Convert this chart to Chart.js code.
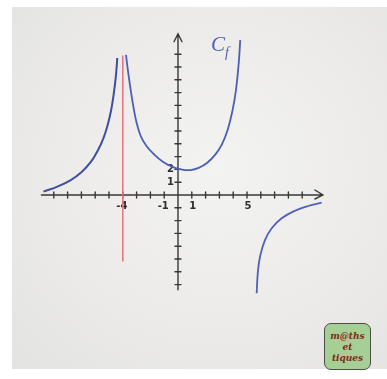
<!DOCTYPE html>
<html>
<head>
<meta charset="utf-8">
<script src="https://cdn.jsdelivr.net/npm/chart.js@4.4.1/dist/chart.umd.min.js"></script>
<style>
  body { margin:0; background:#fff; }
  #wrap { position:relative; width:387px; height:379px; overflow:hidden; background:#fff; }
  #board { position:absolute; left:12px; top:7px; width:375px; height:362px;
    background:radial-gradient(ellipse at 55% 45%, #f3f3f1 0%, #ecebe9 55%, #e3e3e1 100%); }
  #graph { position:absolute; left:0; top:0; }
  #logo { position:absolute; left:324px; top:323px; width:47px; height:47px; box-sizing:border-box;
    border:1.5px solid #4d4d48; border-radius:7px; background:#a6cf96;
    font:italic bold 9px "DejaVu Serif", serif; color:#7e2a17; text-align:center; line-height:11px; padding-top:7px; }
</style>
</head>
<body>
<div id="wrap">
  <div id="board"></div>
  <canvas id="graph" width="387" height="379"></canvas>
  <div id="logo">m@ths<br>et<br>tiques</div>
</div>
<script>
// branch left of the asymptote x = -4
const leftX  = [-9.75,-8.7,-7.8,-7.0,-6.3,-5.8,-5.4,-5.1,-4.85,-4.65,-4.5,-4.4];
const leftY  = [0.26, 0.68, 1.15, 1.78, 2.6, 3.5, 4.45, 5.45, 6.6, 7.95, 9.3, 10.7];
// branch between x = -4 and x = 5
const midX   = [-3.77,-3.6,-3.4,-3.2,-3.0,-2.7,-2.3,-1.8,-1.1,-0.4,0.3,0.9,1.5,2.1,2.7,3.2,3.6,3.95,4.2,4.4,4.51];
const midY   = [10.94,9.5,8.0,6.7,5.65,4.6,3.85,3.25,2.6,2.2,1.98,1.95,2.12,2.5,3.15,4.0,5.1,6.6,8.2,10.3,12.1];
// branch right of x = 5
const rightX = [5.70,5.78,5.94,6.30,6.79,7.51,8.48,9.44,10.41];
const rightY = [-7.68,-6.12,-4.82,-3.52,-2.60,-1.82,-1.23,-0.86,-0.60];
// asymptote x = -4
const asymX  = [-4,-4];
const asymY  = [10.9,-5.2];

const xAxisEnds = [-9.9, 10.5];
const yAxisEnds = [-7.4, 12.6];
const xTicks = [-9,-8,-7,-6,-5,-4,-3,-2,-1,1,2,3,4,5,6,7,8,9];
const yTicks = [-7,-6,-5,-4,-3,-2,-1,1,2,3,4,5,6,7,8,9,10,11];
const xLabels = ['-4','-1','1','5'];
const yLabels = ['1','2'];

const pts = (xs,ys) => xs.map((x,i)=>({x, y:ys[i]}));
const ORX = 178, ORY = 195, UX = 13.8, UY = 12.8;

const axesPlugin = {
  id:'axes',
  beforeDatasetsDraw(chart) {
    const c = chart.ctx, sx = chart.scales.x, sy = chart.scales.y;
    const x0 = sx.getPixelForValue(0), y0 = sy.getPixelForValue(0);
    c.save();
    c.strokeStyle = '#383838'; c.lineWidth = 1.4; c.lineCap = 'round';
    c.beginPath();
    c.moveTo(sx.getPixelForValue(xAxisEnds[0]), y0); c.lineTo(sx.getPixelForValue(xAxisEnds[1]), y0);
    c.moveTo(x0, sy.getPixelForValue(yAxisEnds[0])); c.lineTo(x0, sy.getPixelForValue(yAxisEnds[1]));
    xTicks.forEach(t => { const p = sx.getPixelForValue(t); c.moveTo(p, y0-3); c.lineTo(p, y0+3); });
    yTicks.forEach(t => { const p = sy.getPixelForValue(t); c.moveTo(x0-3, p); c.lineTo(x0+3, p); });
    // arrow heads
    const ax = sx.getPixelForValue(xAxisEnds[1]), ay = sy.getPixelForValue(yAxisEnds[1]);
    c.moveTo(ax-8, y0-5); c.lineTo(ax, y0); c.lineTo(ax-8, y0+4);
    c.moveTo(x0-4, ay+8); c.lineTo(x0, ay); c.lineTo(x0+4, ay+8);
    c.stroke();

    c.fillStyle = '#2e2e2e'; c.font = 'bold 10px "DejaVu Sans", sans-serif';
    c.textAlign = 'center'; c.textBaseline = 'top';
    xLabels.forEach(l => c.fillText(l, sx.getPixelForValue(+l) + (+l<0 ? -1 : 1), y0+6));
    c.textAlign = 'right'; c.textBaseline = 'middle';
    yLabels.forEach(l => c.fillText(l, x0-4, sy.getPixelForValue(+l)));

    // curve name
    c.fillStyle = '#4b5fb8'; c.textAlign = 'left'; c.textBaseline = 'alphabetic';
    c.font = 'italic 21px "Liberation Serif", serif';
    c.fillText('C', 211, 51);
    c.font = 'italic 14px "Liberation Serif", serif';
    c.fillText('f', 225, 57);
    c.restore();
  }
};

const line = (data, color, w) => ({
  data, borderColor:color, borderWidth:w, showLine:true, pointRadius:0,
  tension:0.4, fill:false
});

new Chart(document.getElementById('graph'), {
  type:'scatter',
  data:{ datasets:[
    line(pts(asymX, asymY), '#e8707c', 1.5),
    line(pts(leftX, leftY), '#3d4fa3', 2),
    line(pts(midX, midY), '#4b5fb8', 1.8),
    line(pts(rightX, rightY), '#4d61bb', 1.8)
  ]},
  options:{
    responsive:false, devicePixelRatio:1, animation:false,
    layout:{ padding:0 },
    plugins:{ legend:{display:false}, tooltip:{enabled:false} },
    scales:{
      x:{ type:'linear', display:false, min:-ORX/UX, max:(387-ORX)/UX },
      y:{ type:'linear', display:false, min:-(379-ORY)/UY, max:ORY/UY }
    }
  },
  plugins:[axesPlugin]
});
</script>
</body>
</html>
